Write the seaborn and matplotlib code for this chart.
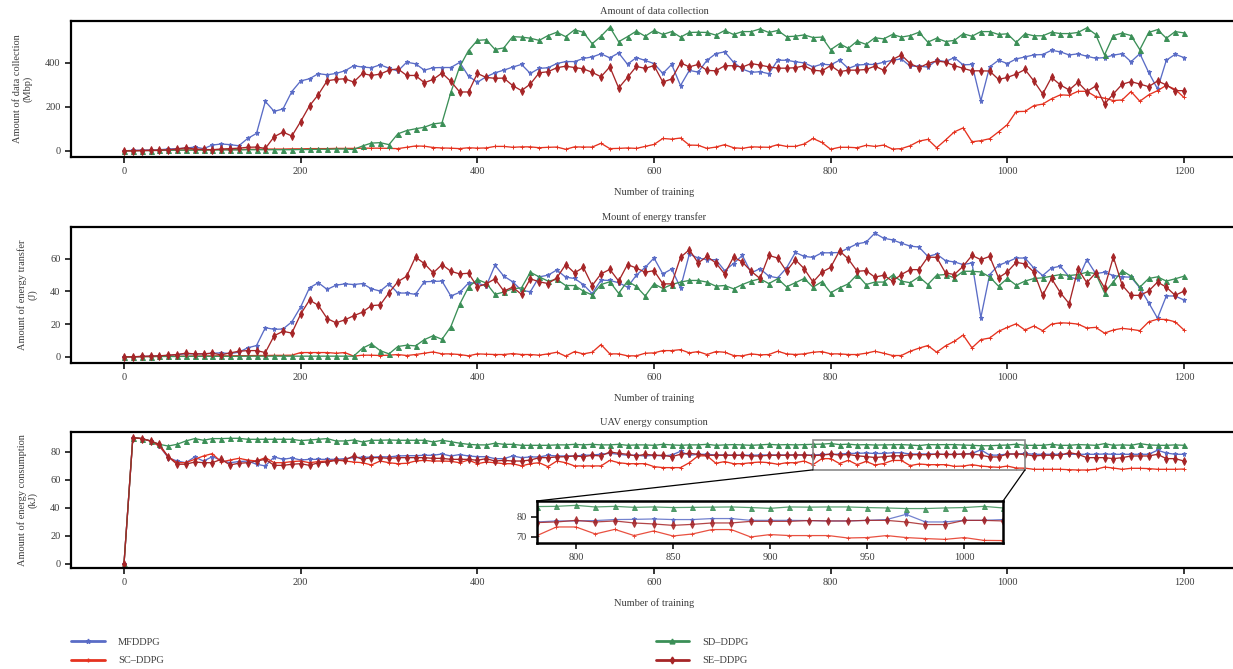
import numpy as np
import pandas as pd
import seaborn as sns
import matplotlib.pyplot as plt
from matplotlib.lines import Line2D
from matplotlib.patches import Rectangle, ConnectionPatch
from matplotlib.ticker import MultipleLocator

steps = list(range(0, 1201, 10))
methods = ['MFDDPG', 'SC–DDPG', 'SD–DDPG', 'SE–DDPG']
colors = ['#5a6cc6', '#e5321f', '#3b8f57', '#a62527']
marker_styles = ['*', '+', '^', 'd']

# Amount of data collection (Mbp)
collect_mf = [0, 2, 3, 4, 5, 8, 10, 12, 17, 10, 26, 31, 28, 23, 56, 79,
              224, 179, 190, 269, 317, 327, 350, 345, 351, 363, 386, 380, 377, 390, 375, 362, 402, 395, 366, 377,
              378, 378, 401, 339, 311, 336,
              354, 366, 380, 392, 351, 374, 377, 396, 405, 405, 419, 426, 440, 422, 444, 393, 423, 410, 396, 351,
              392, 296, 365, 357, 411, 441, 449, 402, 371, 356, 359, 350, 411, 411, 404, 399, 381, 393, 390, 411,
              374, 389,
              392, 392, 402, 411, 417, 384, 384, 380, 411, 405, 423, 390, 392, 227, 381, 411, 396, 417, 426, 435,
              437, 456, 449, 435, 440, 429, 420, 423, 434, 441, 404, 441, 356, 281, 411, 438, 423]
collect_sc = [0, 1, 2, 2, 3, 3, 4, 4, 5, 5, 5, 6, 6, 6, 7, 7, 8, 8, 8, 9, 9, 10, 10, 10, 11, 11, 11, 12, 12, 12, 11,
              10, 16, 22, 21, 15, 13, 12, 10, 14, 12, 13,
              20, 20, 16, 18, 18, 14, 16, 17, 7, 18, 17, 17, 34, 10, 11, 13, 11, 20, 29, 56, 53, 58, 26, 25, 11,
              17, 28, 14, 11, 18, 17, 16, 28, 20, 20, 31, 56, 38, 7, 16, 16, 14,
              25, 20, 26, 8, 10, 23, 44, 52, 14, 49, 86, 104, 41, 46, 55, 86, 119, 178, 179, 205, 212, 236, 254,
              252, 270, 270, 246, 239, 228, 231, 269, 225, 254, 273, 297, 279, 242]
collect_sd = [0, 0, 1, 1, 2, 2, 3, 3, 3, 3, 4, 4, 4, 4, 5, 5, 5, 5, 5, 5, 6, 6, 7, 7, 8, 8, 6,
              22, 35, 37, 28, 77, 92, 100, 107, 122, 127, 265, 381, 455, 501, 504,
              460, 467, 518, 516, 511, 501, 523, 538, 518, 549, 538, 486, 520, 561, 495, 518, 543, 520, 546, 528,
              541, 516, 537, 538, 537, 525, 546, 528, 541, 541, 553, 537, 546, 518, 520, 526, 514, 516, 459, 486,
              465, 498,
              483, 513, 508, 528, 516, 523, 538, 493, 511, 496, 501, 531, 520, 541, 541, 528, 531, 492, 531, 522,
              522, 538, 532, 532, 537, 558, 528, 435, 523, 534, 523, 459, 537, 550, 511, 541, 535]
collect_se = [0, 0, 1, 2, 2, 5, 8, 14, 8, 6, 5, 8, 10, 12, 16, 17, 11,
              64, 85, 67, 133, 204, 255, 318, 324, 327, 312, 351, 342, 348, 366, 372, 342, 342, 309, 324, 353,
              315, 267, 267, 351, 333,
              329, 330, 296, 273, 303, 354, 359, 377, 384, 378, 372, 356, 336, 381, 285, 333, 383, 374, 387, 312,
              326, 399, 381, 392, 365, 363, 386, 386, 380, 396, 389, 381, 375, 375, 377, 386, 366, 362, 387, 359,
              366, 366,
              369, 384, 366, 414, 435, 396, 377, 396, 408, 402, 387, 374, 363, 363, 362, 324, 333, 348, 369, 317,
              258, 333, 299, 276, 311, 269, 294, 212, 258, 302, 314, 303, 291, 317, 299, 273, 273]

# Amount of energy transfer (J)
transfer_mf = [0, 0, 0.2, 0.4, 0.6, 0.8, 1.4, 1.8, 1.8, 1.8, 2.2, 2.4, 2.0, 2.8, 5.5, 6.9,
               17.8, 16.8, 17.0, 21.4, 30.5, 42.2, 45.3, 41.2, 43.8, 44.6, 44.2, 44.8, 41.6, 40.2, 44.6, 39.0,
               39.0, 38.2, 45.9, 46.1, 46.3, 37.2, 39.4, 45.1, 45.1, 43.2,
               56.0, 49.3, 45.9, 40.6, 39.8, 48.9, 49.9, 53.1, 48.7, 47.9, 44.2, 38.6, 46.9, 46.7, 45.3, 42.6,
               49.9, 54.7, 60.4, 50.7, 53.7, 42.2, 62.8, 60.4, 59.4, 59.4, 52.7, 57.0, 62.0, 51.3, 53.9, 49.3,
               48.3, 54.3, 63.8, 61.4, 60.8, 63.6, 63.6, 63.8, 66.5, 69.1,
               70.1, 75.6, 72.5, 71.5, 69.5, 67.7, 67.1, 61.4, 62.8, 58.8, 58.0, 56.4, 57.4, 24.0, 50.3, 56.0,
               58.0, 60.4, 60.4, 54.3, 49.7, 54.3, 55.4, 48.9, 47.3, 59.4, 50.9, 51.7, 49.7, 48.9, 48.7, 42.2,
               33.1, 23.6, 37.2, 37.2, 34.7]
transfer_sc = [0, 0.1, 0.2, 0.2, 0.3, 0.3, 0.4, 0.4, 0.5, 0.5, 0.6, 0.6, 0.6, 0.7, 0.7, 0.8, 0.8, 0.9, 0.9, 1.0,
               2.6, 2.6, 2.6, 2.6, 2.2, 2.6, 0.4, 1.0, 1.0, 0.8, 1.0, 1.4, 0.8, 1.4, 2.2, 3.0, 1.8, 1.8, 1.4, 0.6,
               1.8, 1.6,
               1.4, 1.4, 2.0, 1.4, 1.4, 1.0, 1.8, 2.8, 0.4, 3.2, 1.8, 2.8, 7.5, 1.8, 1.8, 0.6, 0.6, 2.2, 2.4, 3.8,
               3.8, 4.4, 2.4, 3.2, 1.4, 3.2, 2.8, 0.8, 0.6, 1.8, 1.2, 1.4, 3.4, 1.8, 1.4, 1.8, 2.8, 3.2, 1.8, 1.8,
               1.4, 1.4,
               2.2, 3.4, 2.2, 0.8, 0.8, 3.4, 5.3, 6.9, 2.8, 6.7, 9.5, 13.3, 5.5, 10.5, 11.5, 15.6, 18.0, 20.2,
               16.4, 18.8, 16.0, 20.0, 20.8, 20.6, 20.0, 17.6, 18.0, 14.5, 16.4, 17.4, 16.8, 16.0, 21.4, 23.0,
               22.8, 21.4, 16.4]
transfer_sd = [0, 0, 0.1, 0.1, 0.2, 0.2, 0.2, 0.3, 0.3, 0.3, 0.3, 0.3, 0.3, 0.3, 0.4, 0.4, 0.4, 0.4, 0.4, 0.4,
               0.4, 0.4, 0.4, 0.4, 0.4, 0.4, 0.4,
               5.3, 7.9, 3.8, 1.8, 6.3, 7.1, 6.7, 10.5, 12.9, 10.7, 18.4, 32.1, 42.6, 47.3, 45.1,
               38.2, 39.6, 41.6, 42.2, 51.7, 48.9, 46.3, 47.3, 43.6, 43.6, 40.2, 37.8, 44.2, 45.9, 38.8, 46.3,
               43.0, 37.2, 44.6, 41.8, 44.2, 45.7, 46.7, 46.7, 45.7, 43.2, 43.6, 41.6, 44.2, 46.3, 47.7, 44.8,
               47.7, 42.8, 45.3, 47.9, 42.6, 45.9, 39.2, 42.2, 44.6, 50.3,
               44.2, 45.7, 45.7, 49.9, 46.3, 45.3, 48.9, 44.2, 49.9, 50.3, 48.3, 52.3, 52.3, 51.9, 48.9, 43.2,
               47.9, 43.8, 46.3, 47.9, 48.3, 49.3, 50.3, 49.7, 50.3, 51.7, 50.9, 39.2, 45.9, 52.7, 49.3, 42.6,
               47.9, 48.9, 46.3, 47.7, 49.3]
transfer_se = [0, 0, 0.2, 0.4, 0.6, 1.0, 1.4, 2.2, 1.8, 1.8, 2.2, 1.2, 2.4, 3.4, 3.8, 3.8, 2.6,
               12.9, 15.6, 14.5, 26.1, 34.7, 31.5, 23.4, 20.8, 22.6, 25.1, 27.3, 31.3, 31.7, 39.2, 45.9, 49.3,
               61.0, 57.0, 51.3, 56.4, 52.3, 50.7, 51.1, 42.8, 44.6,
               47.7, 40.2, 42.6, 38.2, 47.7, 45.9, 44.8, 48.3, 56.4, 51.3, 54.7, 43.6, 50.7, 53.5, 46.3, 56.4,
               54.3, 51.7, 52.7, 44.6, 44.6, 60.8, 65.5, 57.4, 61.4, 57.4, 50.7, 61.0, 58.0, 52.3, 47.9, 62.0,
               60.4, 52.3, 59.4, 53.9, 45.7, 51.7, 54.7, 64.8, 59.8, 52.3,
               52.7, 48.7, 49.9, 46.3, 50.3, 53.3, 53.3, 61.0, 60.8, 51.3, 50.3, 55.4, 62.0, 59.4, 61.4, 48.3,
               51.9, 57.8, 56.8, 51.9, 37.6, 47.9, 39.2, 32.5, 53.7, 45.3, 51.3, 42.2, 61.0, 43.8, 37.6, 37.6,
               40.2, 45.7, 42.6, 37.6, 40.2]

# UAV energy consumption (kJ)
consume_mf = [0, 90, 89.3, 87.6, 84.0, 75.7, 73.3, 72.1, 76.2, 73.3, 76.4, 73.8, 72.1, 72.9, 73.3, 71.0, 69.8,
              76.2, 74.5, 75.5, 74.0, 74.5, 74.5, 74.5, 74.5, 75.0, 75.7, 76.0, 76.0, 76.4, 76.2, 76.9, 77.1,
              77.1, 77.4, 77.4, 78.3, 76.9, 77.9, 76.9, 76.4, 76.4,
              75.0, 75.0, 76.9, 75.7, 76.2, 76.2, 77.4, 76.9, 76.9, 76.9, 77.4, 77.6, 78.1, 78.8, 78.1, 77.4,
              77.4, 76.9, 77.4, 76.9, 77.6, 80.2, 77.4, 78.1, 78.1, 77.6, 77.6, 77.4, 77.6, 77.4, 77.6, 77.6,
              77.6, 77.6, 77.6, 77.6,
              77.5, 78.0, 78.0, 78.2, 78.7, 78.8, 79.0, 78.7, 78.7, 79.2, 79.2, 78.3, 78.3, 78.3, 78.2, 78.0,
              78.0, 78.3, 78.7, 81.3, 77.5, 77.5, 78.3, 78.3, 78.7,
              78.1, 78.1, 78.1, 78.1, 78.1, 78.1, 78.1, 78.1, 78.3, 78.1, 78.1, 78.1, 78.1, 78.1, 81.0, 79.0,
              78.1, 78.1]
consume_sc = [0, 90, 89.3, 87.6, 84.0, 76.4, 72.1, 72.1, 74.5, 76.9, 78.6, 72.6, 74.0, 75.2, 74.0, 73.3, 75.7,
              72.1, 72.1, 72.9, 73.3, 72.1, 72.9, 73.3, 74.0, 73.3, 72.6, 72.1, 70.5, 73.3, 72.1, 71.4, 71.7,
              73.3, 73.8, 73.3, 73.3, 73.1, 72.1, 74.0, 71.4, 72.6,
              72.1, 71.4, 71.4, 69.8, 71.4, 72.1, 69.3, 73.3, 72.1, 69.8, 69.8, 69.8, 69.8, 73.8, 72.1, 71.4,
              71.4, 71.4, 69.3, 68.6, 68.6, 68.6, 72.1, 77.0, 77.0, 71.7, 72.9, 71.4, 71.4, 72.1, 72.6, 72.1,
              71.0, 72.1, 72.1, 73.3,
              70.7, 75.0, 75.0, 71.5, 73.8, 70.7, 73.0, 70.5, 71.5, 73.7, 73.7, 70.0, 71.2, 70.7, 70.7, 70.7,
              69.5, 69.7, 70.7, 69.7, 69.2, 68.8, 69.7, 68.3, 68.2,
              67.4, 67.4, 67.4, 67.4, 67.1, 66.9, 66.9, 67.4, 69.0, 68.3, 67.4, 68.1, 68.1, 67.9, 67.4, 67.4,
              67.4, 67.6]
consume_sd = [0, 90, 89.3, 87.6, 85.2, 84.0, 85.2, 87.6, 89.3, 88.1, 89.3, 89.3, 89.5, 89.5, 88.8, 88.8, 88.8,
              88.8, 88.8, 88.8, 87.9, 88.3, 88.8, 89.3, 87.6, 87.6, 88.3, 86.9, 88.1, 88.1, 88.3, 88.1, 88.1,
              88.1, 88.1, 86.9, 88.1, 87.1, 86.0, 85.2, 84.8, 84.8,
              86.0, 85.2, 85.2, 84.5, 84.5, 84.5, 84.5, 84.8, 84.8, 85.2, 84.8, 85.2, 84.8, 84.8, 85.2, 84.5,
              84.8, 84.8, 84.5, 85.2, 84.8, 84.5, 84.8, 84.8, 85.2, 84.5, 84.8, 85.0, 84.8, 84.5, 84.8, 85.2,
              84.8, 85.0, 84.8, 85.0,
              85.2, 85.3, 85.8, 85.0, 85.3, 84.8, 85.0, 84.7, 84.8, 84.9, 85.0, 84.7, 84.3, 85.0, 84.9, 85.0,
              85.0, 84.7, 84.5, 84.2, 84.2, 84.5, 84.7, 85.3, 84.5,
              84.5, 84.5, 85.2, 84.5, 84.5, 85.0, 84.8, 84.5, 85.7, 84.5, 84.8, 84.5, 85.7, 84.8, 84.5, 84.5,
              84.8, 84.5]
consume_se = [0, 90, 89.3, 87.6, 85.2, 76.4, 71.0, 71.0, 72.6, 72.1, 72.1, 74.5, 70.5, 71.7, 72.1, 73.3, 74.5,
              70.2, 70.2, 71.0, 71.4, 70.2, 72.1, 72.6, 73.8, 74.0, 76.9, 74.5, 75.7, 75.7, 75.2, 75.7, 75.7,
              75.7, 75.7, 75.2, 75.2, 74.5, 74.5, 74.5, 73.8, 75.0,
              73.3, 73.8, 73.3, 73.3, 74.0, 75.7, 75.7, 76.2, 76.4, 76.9, 76.4, 77.4, 76.9, 79.8, 78.8, 78.1,
              76.9, 78.1, 77.4, 77.4, 76.4, 78.1, 78.8, 78.1, 77.4, 77.4, 77.4, 77.4, 77.4, 76.9, 76.9, 77.4,
              77.4, 77.4, 77.6, 77.6,
              77.2, 77.5, 78.3, 77.5, 78.0, 77.0, 76.5, 75.8, 76.3, 77.0, 77.0, 77.8, 77.8, 77.8, 78.2, 78.0,
              78.0, 78.3, 78.3, 77.5, 76.2, 76.2, 78.3, 78.3, 78.0,
              76.9, 77.4, 77.4, 77.4, 79.3, 78.1, 75.7, 75.7, 75.7, 75.0, 75.7, 76.9, 76.9, 76.9, 78.1, 75.0,
              75.0, 73.3]

titles = ['Amount of data collection', 'Mount of energy transfer', 'UAV energy consumption']
ylabels = ['Amount of data collection\n(Mbp)', 'Amount of energy transfer\n(J)',
           'Amount of energy consumption\n(kJ)']
ysteps = [200, 20, 20]
zoom_x = (780, 1020)
zoom_y = (67, 88)
inset_xticks = [800, 850, 900, 950, 1000]
inset_yticks = [70, 80]

sns.set_theme(style='ticks')
plt.rcParams['font.family'] = ['Liberation Serif', 'DejaVu Serif']
plt.rcParams['font.size'] = 7.5
text_col = '#3c3c3c'
marker_sizes = {'*': 3.6, '+': 3.0, '^': 3.6, 'd': 4.0}


def long_frame(series):
    parts = []
    for m, vals in zip(methods, series):
        parts.append(pd.DataFrame({'step': steps, 'value': vals, 'method': m}))
    return pd.concat(parts, ignore_index=True)


def draw(ax, df, lw=0.95, alpha=1.0):
    # one call per method, since seaborn won't mix filled and line markers
    for m, c, mk in zip(methods, colors, marker_styles):
        sub = df[df['method'] == m]
        sns.lineplot(data=sub, x='step', y='value', color=c, marker=mk,
                     markersize=marker_sizes[mk], markeredgecolor=c, markeredgewidth=0.7,
                     errorbar=None, linewidth=lw, alpha=alpha, legend=False, ax=ax)


def style_axes(ax, lw=1.6):
    for sp in ax.spines.values():
        sp.set_visible(True)
        sp.set_linewidth(lw)
        sp.set_color('black')
    ax.tick_params(direction='out', length=4, width=1.3, labelsize=7.5, labelcolor=text_col,
                   top=False, right=False)


fig = plt.figure(figsize=(12.33, 6.69), dpi=100)
all_series = [[collect_mf, collect_sc, collect_sd, collect_se],
              [transfer_mf, transfer_sc, transfer_sd, transfer_se],
              [consume_mf, consume_sc, consume_sd, consume_se]]
bottoms = [1 - 157 / 669, 1 - 363 / 669, 1 - 568 / 669]
axes = []
for k in range(3):
    ax = fig.add_axes([71 / 1233, bottoms[k], 1166 / 1233, 136 / 669])
    draw(ax, long_frame(all_series[k]))
    ax.set_xlim(-60, 1260)
    ax.xaxis.set_major_locator(MultipleLocator(200))
    ax.yaxis.set_major_locator(MultipleLocator(ysteps[k]))
    ax.set_title(titles[k], fontsize=7.5, pad=5, color=text_col)
    ax.set_xlabel('Number of training', fontsize=7.5, labelpad=8, color=text_col)
    ax.set_ylabel(ylabels[k], fontsize=7.5, labelpad=9, color=text_col)
    style_axes(ax)
    axes.append(ax)

ax3 = axes[2]
ax3.set_ylim(-3, 94)
axins = ax3.inset_axes([0.3997, 0.184, 0.3997, 0.309])
draw(axins, long_frame(all_series[2]), lw=0.9, alpha=0.85)
axins.set_xlim(*zoom_x)
axins.set_ylim(*zoom_y)
axins.set_xticks(inset_xticks)
axins.set_yticks(inset_yticks)
axins.set_xlabel('')
axins.set_ylabel('')
style_axes(axins, lw=1.8)

ax3.add_patch(Rectangle((zoom_x[0], zoom_y[0]), zoom_x[1] - zoom_x[0], zoom_y[1] - zoom_y[0],
                        fill=False, edgecolor='#8a8a8a', linewidth=1.2, zorder=5))
for xa, xb in [(zoom_x[0], 0), (zoom_x[1], 1)]:
    con = ConnectionPatch(xyA=(xa, zoom_y[0]), coordsA=ax3.transData, xyB=(xb, 1),
                          coordsB=axins.transAxes, color='black', linewidth=0.9)
    fig.add_artist(con)

handles = [Line2D([], [], color=c, marker=m, markersize=3.5, linewidth=2.0, markeredgecolor=c)
           for c, m in zip(colors, marker_styles)]
fig.legend(handles, methods, ncol=2, loc='upper left', mode='expand',
           bbox_to_anchor=(62 / 1233, 1 - 628 / 669, 696 / 1233, 0.0),
           frameon=False, fontsize=7.5, handlelength=3.2, handletextpad=1.3, labelspacing=0.9,
           labelcolor=text_col)

fig.savefig('out.png', dpi=100)
